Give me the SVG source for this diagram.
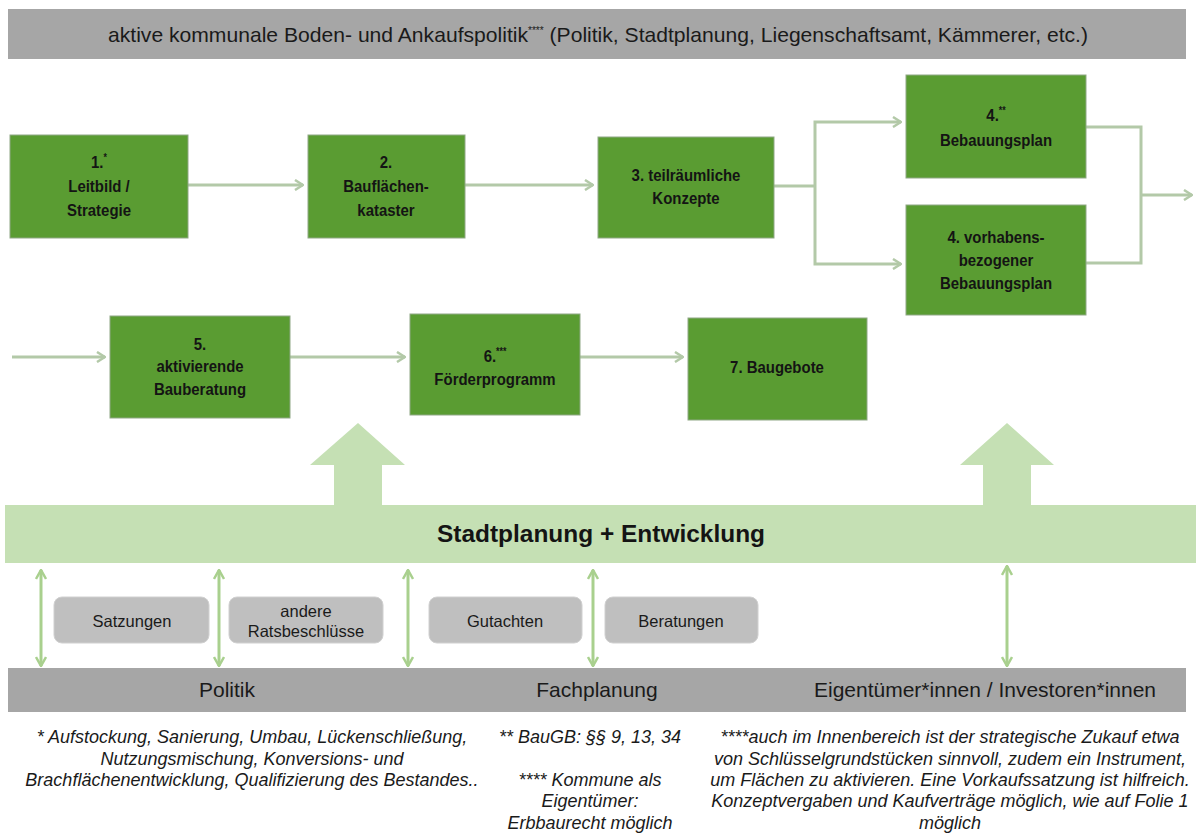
<svg xmlns="http://www.w3.org/2000/svg" width="1196" height="836" viewBox="0 0 1196 836">
  <defs>
    <style>
      .node rect { fill: #5a9c32; stroke: #8fa885; stroke-width: 1; }
      .node text { font-family: "Liberation Sans", Arial, sans-serif; font-weight: bold; font-size: 17px; fill: #141414; text-anchor: middle; }
      .flow { fill: none; stroke: #b3c9a8; stroke-width: 3; }
      .dbl { fill: none; stroke: #a9d08e; stroke-width: 3; }
      .bar { fill: #a6a6a6; }
      .bar-text { font-family: "Liberation Sans", Arial, sans-serif; font-size: 21px; fill: #1a1a1a; text-anchor: middle; }
      .pill rect { fill: #bfbfbf; stroke: #d0d0d0; stroke-width: 1; }
      .pill text { font-family: "Liberation Sans", Arial, sans-serif; font-size: 16.5px; fill: #1a1a1a; text-anchor: middle; }
      .note { font-family: "Liberation Sans", Arial, sans-serif; font-style: italic; font-size: 18px; fill: #1a1a1a; text-anchor: middle; }
      .sup { font-size: 10px; }
    </style>
    <marker id="chev" viewBox="0 0 10 12" refX="9" refY="6" markerWidth="10" markerHeight="12" markerUnits="userSpaceOnUse" orient="auto">
      <path d="M1,1 L9,6 L1,11" fill="none" stroke="#b3c9a8" stroke-width="2.5"/>
    </marker>
    <marker id="chevUp" viewBox="0 0 12 12" refX="6" refY="1" markerWidth="12" markerHeight="12" markerUnits="userSpaceOnUse" orient="0">
      <path d="M1,10 L6,1 L11,10" fill="none" stroke="#a9d08e" stroke-width="2.5"/>
    </marker>
    <marker id="chevDown" viewBox="0 0 12 12" refX="6" refY="11" markerWidth="12" markerHeight="12" markerUnits="userSpaceOnUse" orient="0">
      <path d="M1,2 L6,11 L11,2" fill="none" stroke="#a9d08e" stroke-width="2.5"/>
    </marker>
  </defs>

  <rect width="1196" height="836" fill="#ffffff"/>

  <!-- land policy header -->
  <g id="header">
    <rect class="bar" x="8" y="9" width="1178" height="50"/>
    <text class="bar-text" x="598" y="42" font-size="20" textLength="980" lengthAdjust="spacingAndGlyphs">aktive kommunale Boden- und Ankaufspolitik<tspan class="sup" dy="-8">****</tspan><tspan dy="8"> (Politik, Stadtplanung, Liegenschaftsamt, Kämmerer, etc.)</tspan></text>
  </g>

  <!-- process connectors -->
  <g id="connectors">
    <line class="flow" x1="188" y1="185" x2="303" y2="185" marker-end="url(#chev)"/>
    <line class="flow" x1="465" y1="185" x2="593" y2="185" marker-end="url(#chev)"/>
    <line class="flow" x1="774" y1="186" x2="815" y2="186"/>
    <polyline class="flow" points="815,186 815,122 901,122" marker-end="url(#chev)"/>
    <polyline class="flow" points="815,186 815,264 901,264" marker-end="url(#chev)"/>
    <polyline class="flow" points="1086,127 1141,127 1141,263 1086,263"/>
    <line class="flow" x1="1141" y1="195" x2="1192" y2="195" marker-end="url(#chev)"/>
    <line class="flow" x1="12" y1="357" x2="105" y2="357" marker-end="url(#chev)"/>
    <line class="flow" x1="290" y1="357" x2="405" y2="357" marker-end="url(#chev)"/>
    <line class="flow" x1="580" y1="357" x2="683" y2="357" marker-end="url(#chev)"/>
    <!-- links between planning and actors -->
    <line class="dbl" x1="41" y1="570" x2="41" y2="666" marker-start="url(#chevUp)" marker-end="url(#chevDown)"/>
    <line class="dbl" x1="219" y1="570" x2="219" y2="666" marker-start="url(#chevUp)" marker-end="url(#chevDown)"/>
    <line class="dbl" x1="408" y1="570" x2="408" y2="666" marker-start="url(#chevUp)" marker-end="url(#chevDown)"/>
    <line class="dbl" x1="593" y1="570" x2="593" y2="666" marker-start="url(#chevUp)" marker-end="url(#chevDown)"/>
    <line class="dbl" x1="1007" y1="566" x2="1007" y2="666" marker-start="url(#chevUp)" marker-end="url(#chevDown)"/>
  </g>

  <!-- process steps (labels set in a condensed bold face) -->
  <g id="step1" class="node">
    <rect x="10" y="135" width="178" height="103"/>
    <g transform="translate(99 0) scale(0.88 1)">
      <text x="0" y="168">1.<tspan class="sup" dy="-7">*</tspan></text>
      <text x="0" y="192">Leitbild  /</text>
      <text x="0" y="216">Strategie</text>
    </g>
  </g>
  <g id="step2" class="node">
    <rect x="308" y="135" width="157" height="103"/>
    <g transform="translate(386 0) scale(0.88 1)">
      <text x="0" y="168">2.</text>
      <text x="0" y="192">Bauflächen-</text>
      <text x="0" y="216">kataster</text>
    </g>
  </g>
  <g id="step3" class="node">
    <rect x="598" y="137" width="176" height="101"/>
    <g transform="translate(686 0) scale(0.88 1)">
      <text x="0" y="181">3. teilräumliche</text>
      <text x="0" y="204">Konzepte</text>
    </g>
  </g>
  <g id="step4a" class="node">
    <rect x="906" y="75" width="180" height="103"/>
    <g transform="translate(996 0) scale(0.88 1)">
      <text x="0" y="121">4.<tspan class="sup" dy="-7">**</tspan></text>
      <text x="0" y="146">Bebauungsplan</text>
    </g>
  </g>
  <g id="step4b" class="node">
    <rect x="906" y="205" width="180" height="110"/>
    <g transform="translate(996 0) scale(0.88 1)">
      <text x="0" y="243">4. vorhabens-</text>
      <text x="0" y="266">bezogener</text>
      <text x="0" y="289">Bebauungsplan</text>
    </g>
  </g>
  <g id="step5" class="node">
    <rect x="110" y="316" width="180" height="102"/>
    <g transform="translate(200 0) scale(0.88 1)">
      <text x="0" y="350">5.</text>
      <text x="0" y="372">aktivierende</text>
      <text x="0" y="395">Bauberatung</text>
    </g>
  </g>
  <g id="step6" class="node">
    <rect x="410" y="314" width="170" height="101"/>
    <g transform="translate(495 0) scale(0.88 1)">
      <text x="0" y="362">6.<tspan class="sup" dy="-7">***</tspan></text>
      <text x="0" y="385">Förderprogramm</text>
    </g>
  </g>
  <g id="step7" class="node">
    <rect x="688" y="318" width="179" height="102"/>
    <g transform="translate(777 0) scale(0.88 1)">
      <text x="0" y="373">7. Baugebote</text>
    </g>
  </g>

  <!-- urban planning band with upward arrows -->
  <g id="stadtplanung">
    <path d="M334,505 L334,465 L310,465 L358,423 L405,465 L382,465 L382,505 Z" fill="#c5e0b4"/>
    <path d="M983,505 L983,465 L960,465 L1007,423 L1054,465 L1031,465 L1031,505 Z" fill="#c5e0b4"/>
    <rect x="5" y="505" width="1191" height="58" fill="#c5e0b4"/>
    <text x="601" y="542" font-family="'Liberation Sans', Arial, sans-serif" font-weight="bold" font-size="23" fill="#141414" text-anchor="middle" textLength="328" lengthAdjust="spacingAndGlyphs">Stadtplanung + Entwicklung</text>
  </g>

  <!-- instruments -->
  <g id="satzungen" class="pill">
    <rect x="54" y="597" width="155" height="46" rx="8"/>
    <text x="132" y="627">Satzungen</text>
  </g>
  <g id="ratsbeschluesse" class="pill">
    <rect x="229" y="597" width="154" height="46" rx="8"/>
    <text x="306" y="617">andere</text>
    <text x="306" y="637">Ratsbeschlüsse</text>
  </g>
  <g id="gutachten" class="pill">
    <rect x="429" y="597" width="153" height="46" rx="8"/>
    <text x="505" y="627">Gutachten</text>
  </g>
  <g id="beratungen" class="pill">
    <rect x="605" y="597" width="153" height="46" rx="8"/>
    <text x="681" y="627">Beratungen</text>
  </g>

  <!-- actors -->
  <g id="actors">
    <rect class="bar" x="8" y="668" width="1178" height="44"/>
    <text class="bar-text" x="227" y="697">Politik</text>
    <text class="bar-text" x="597" y="697">Fachplanung</text>
    <text class="bar-text" x="985" y="697">Eigentümer*innen / Investoren*innen</text>
  </g>

  <!-- footnotes -->
  <g id="footnotes">
    <text class="note" x="252" y="743">* Aufstockung, Sanierung, Umbau, Lückenschließung,</text>
    <text class="note" x="252" y="765">Nutzungsmischung, Konversions- und</text>
    <text class="note" x="252" y="786">Brachflächenentwicklung, Qualifizierung des Bestandes..</text>
    <text class="note" x="590" y="743">** BauGB: §§ 9, 13, 34</text>
    <text class="note" x="590" y="786">**** Kommune als</text>
    <text class="note" x="590" y="807">Eigentümer:</text>
    <text class="note" x="590" y="829">Erbbaurecht möglich</text>
    <text class="note" x="950" y="743">****auch im Innenbereich ist der strategische Zukauf etwa</text>
    <text class="note" x="950" y="765">von Schlüsselgrundstücken sinnvoll, zudem ein Instrument,</text>
    <text class="note" x="950" y="786">um Flächen zu aktivieren. Eine Vorkaufssatzung ist hilfreich.</text>
    <text class="note" x="950" y="807">Konzeptvergaben und Kaufverträge möglich, wie auf Folie 1</text>
    <text class="note" x="950" y="829">möglich</text>
  </g>
</svg>
